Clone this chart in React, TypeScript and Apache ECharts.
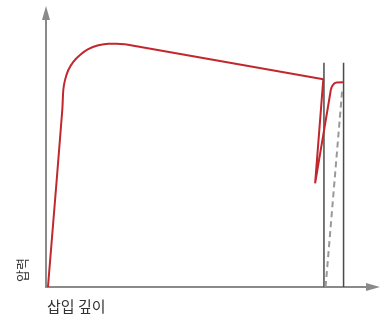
import React, { useEffect, useRef } from "react";
import * as echarts from "echarts";

// Pressure vs insertion depth (arbitrary units 0-100)
const loadingCurve: [number, number][] = [
  [0.6, 0], [4.98, 64.6], [5.29, 71.9], [5.81, 75.5], [6.82, 79.2], [8.35, 82.2],
  [10.4, 84.7], [12.9, 86.8], [16.0, 88.2], [19.1, 88.8], [21.6, 88.8], [24.2, 88.6],
];
const declineAndDrop: [number, number][] = [
  [24.2, 88.6], [84.8, 75.8], [82.3, 37.8], [87.1, 71.9],
];
const reloadCurve: [number, number][] = [
  [87.1, 71.9], [87.7, 73.7], [88.9, 74.6], [91.0, 74.7],
];
const unloadDashed: [number, number][] = [
  [85.5, 0], [90.6, 72.2],
];
const markerLeft: [number, number][] = [[85.0, 0], [85.0, 81.8]];
const markerRight: [number, number][] = [[91.0, 0], [91.0, 81.8]];

const xLabel = "삽입 깊이";
const yLabel = "압력";

const RED = "#c1272d";
const AXIS = "#8a8a8a";

export default function App() {
  const ref = useRef<HTMLDivElement>(null);
  useEffect(() => {
    if (!ref.current) return;
    const chart = echarts.init(ref.current, undefined, { renderer: "svg" });
    const axisCommon = {
      type: "value" as const,
      min: 0,
      max: 100,
      axisTick: { show: false },
      axisLabel: { show: false },
      splitLine: { show: false },
      axisLine: {
        show: true,
        symbol: ["none", "triangle"],
        symbolSize: [8, 14],
        lineStyle: { color: AXIS, width: 2 },
      },
    };
    const line = (data: [number, number][], color: string, width: number, smooth: number | boolean, type: any = "solid", z = 2) => ({
      type: "line" as const,
      data,
      smooth,
      symbol: "none",
      z,
      lineStyle: { color, width, type },
      silent: true,
    });
    chart.setOption({
      animation: false,
      grid: { left: 46, top: 13, right: 14, bottom: 29 },
      xAxis: { ...axisCommon },
      yAxis: { ...axisCommon },
      series: [
        line(markerLeft, "#4a4a4a", 1.5, false, "solid", 1),
        line(markerRight, "#4a4a4a", 1.5, false, "solid", 1),
        line(unloadDashed, "#999999", 2, false, [6, 4], 2),
        line(loadingCurve, RED, 2, 0.35, "solid", 3),
        line(declineAndDrop, RED, 2, false, "solid", 3),
        line(reloadCurve, RED, 2, 0.4, "solid", 3),
      ],
      graphic: [
        {
          type: "text",
          x: 21.5,
          y: 270,
          rotation: Math.PI / 2,
          style: {
            text: yLabel,
            align: "center",
            verticalAlign: "middle",
            fontSize: 13,
            fontFamily: "Noto Sans CJK KR",
            fill: "#333",
          },
        },
        {
          type: "text",
          x: 47,
          y: 305,
          style: {
            text: xLabel,
            align: "left",
            verticalAlign: "middle",
            fontSize: 15,
            fontFamily: "Noto Sans CJK KR",
            fill: "#333",
          },
        },
      ],
    });
    return () => chart.dispose();
  }, []);
  return (
    <div
      ref={ref}
      style={{ position: "fixed", left: 0, top: 0, width: 387, height: 316 }}
    />
  );
}
